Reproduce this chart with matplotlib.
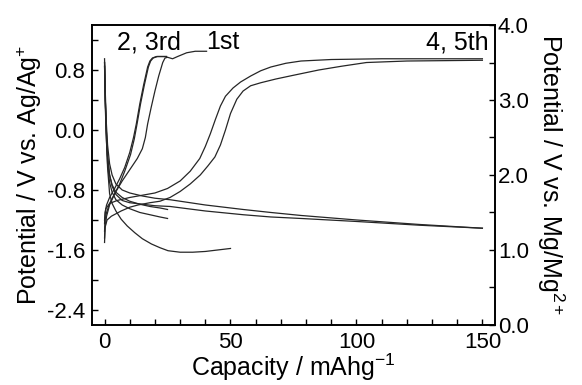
import matplotlib
matplotlib.use("Agg")
import matplotlib.pyplot as plt
from matplotlib.ticker import MultipleLocator

plt.rcParams['font.family'] = ['Liberation Sans', 'DejaVu Sans']
plt.rcParams['mathtext.fontset'] = 'custom'
plt.rcParams['mathtext.rm'] = 'Liberation Sans'
plt.rcParams['mathtext.it'] = 'Liberation Sans'

# discharge curves (capacity mAh/g, potential V vs Ag/Ag+)
dis1_x = [0, 0.3, 0.7, 1.2, 2, 3, 4.5, 6.6, 9, 12, 15, 18.6, 22, 25.2, 30, 35, 40, 45, 50]
dis1_y = [0.95, 0.4, -0.1, -0.5, -0.85, -0.98, -1.08, -1.19, -1.28, -1.37, -1.45, -1.52, -1.57, -1.61, -1.63, -1.63, -1.62, -1.6, -1.58]

dis2_x = [0, 0.3, 0.7, 1.2, 2, 3, 4.5, 7, 10, 14, 18, 22, 25]
dis2_y = [0.9, 0.4, 0.0, -0.35, -0.6, -0.73, -0.83, -0.9, -0.95, -0.99, -1.02, -1.04, -1.06]
dis3_x = [0, 0.3, 0.7, 1.2, 2, 3, 4.5, 7, 10, 14, 18, 22, 25]
dis3_y = [0.85, 0.3, -0.1, -0.45, -0.7, -0.83, -0.93, -1.0, -1.05, -1.1, -1.13, -1.16, -1.18]

dis4_x = [0, 0.3, 0.7, 1.2, 2, 3, 4.5, 7, 10, 15, 20, 26, 40, 55, 66, 78, 100, 125, 150]
dis4_y = [0.9, 0.5, 0.1, -0.2, -0.45, -0.6, -0.72, -0.8, -0.84, -0.88, -0.91, -0.93, -1.0, -1.06, -1.1, -1.14, -1.2, -1.26, -1.31]
dis5_x = [0, 0.3, 0.7, 1.2, 2, 3, 4.5, 7, 10, 15, 20, 26, 40, 55, 66, 78, 100, 125, 150]
dis5_y = [0.85, 0.4, 0.0, -0.35, -0.6, -0.75, -0.86, -0.94, -0.97, -0.99, -1.01, -1.02, -1.08, -1.13, -1.16, -1.18, -1.22, -1.27, -1.31]

# charge curves
ch1_x = [0, 0.2, 0.8, 2, 4, 7, 10, 13, 15, 16.2, 17.1, 18.5, 20, 21.5, 23.1, 24, 25, 27, 29, 32.6, 36, 40.5]
ch1_y = [-1.5, -1.3, -1.15, -1.0, -0.85, -0.68, -0.53, -0.38, -0.25, -0.1, 0.08, 0.3, 0.52, 0.72, 0.9, 0.96, 0.97, 0.95, 0.98, 1.03, 1.05, 1.05]

ch2_x = [0, 0.2, 0.8, 2, 4, 6, 8, 10, 11.5, 12.6, 14, 15.5, 17.1, 18, 19, 20.6, 24.6]
ch2_y = [-1.25, -1.1, -1.0, -0.9, -0.78, -0.65, -0.5, -0.3, -0.1, 0.08, 0.35, 0.6, 0.84, 0.92, 0.96, 0.98, 0.98]
ch3_x = [0, 0.2, 0.8, 2, 4, 6, 8, 10.3, 11.8, 12.9, 14.3, 15.8, 17.4, 18.3, 19.3, 21, 24.6]
ch3_y = [-1.35, -1.2, -1.1, -0.98, -0.85, -0.72, -0.55, -0.33, -0.12, 0.08, 0.35, 0.6, 0.84, 0.92, 0.96, 0.98, 0.98]

ch4_x = [0, 0.5, 2, 5, 10, 15, 20, 25, 30, 34, 37.8, 40, 42, 44, 46, 48, 51, 54, 58, 62, 66, 72, 78, 90, 110, 150]
ch4_y = [-1.2, -1.05, -0.98, -0.94, -0.9, -0.87, -0.84, -0.78, -0.68, -0.55, -0.38, -0.22, -0.05, 0.14, 0.32, 0.45, 0.56, 0.64, 0.72, 0.79, 0.84, 0.89, 0.92, 0.94, 0.95, 0.95]
ch5_x = [0, 0.2, 1, 2.7, 6.6, 10, 13.3, 18, 22, 26, 30, 34, 38, 41, 43.8, 46, 48, 50, 52.5, 55, 58, 62, 68, 75, 85, 94, 104, 120, 150]
ch5_y = [-1.44, -1.3, -1.2, -1.15, -1.08, -1.03, -1.0, -0.97, -0.95, -0.9, -0.82, -0.72, -0.6, -0.48, -0.36, -0.2, 0.0, 0.22, 0.41, 0.52, 0.59, 0.63, 0.68, 0.73, 0.8, 0.85, 0.9, 0.92, 0.93]

curves = [(dis1_x, dis1_y), (dis2_x, dis2_y), (dis3_x, dis3_y), (dis4_x, dis4_y), (dis5_x, dis5_y),
          (ch1_x, ch1_y), (ch2_x, ch2_y), (ch3_x, ch3_y), (ch4_x, ch4_y), (ch5_x, ch5_y)]

fig = plt.figure(figsize=(5.82, 3.85), dpi=100)
ax = fig.add_axes([0.158, 0.156, 0.6925, 0.779])

for cx, cy in curves:
    ax.plot(cx, cy, color='#262626', lw=0.9)

ax.set_xlim(-5, 155)
ax.set_ylim(-2.6, 1.4)
ax.xaxis.set_major_locator(MultipleLocator(50))
ax.xaxis.set_minor_locator(MultipleLocator(10))
ax.yaxis.set_major_locator(MultipleLocator(0.8))
ax.yaxis.set_minor_locator(MultipleLocator(0.4))
ax.yaxis.set_major_formatter(plt.FormatStrFormatter('%.1f'))
ax.tick_params(which='both', direction='in', length=4, width=1, labelsize=16, pad=5, top=False, right=False)
ax.set_xlabel('Capacity / mAhg$^{-1}$', fontsize=18, labelpad=-1)
ax.set_ylabel('Potential / V vs. Ag/Ag$^{+}$', fontsize=18, labelpad=2)

ax2 = ax.twinx()
ax2.set_ylim(0, 4)
ax2.yaxis.set_major_locator(MultipleLocator(1))
ax2.yaxis.set_minor_locator(MultipleLocator(0.5))
ax2.yaxis.set_major_formatter(plt.FormatStrFormatter('%.1f'))
ax2.tick_params(which='both', direction='in', length=4, width=1, labelsize=16, pad=2)
ax2.set_ylabel('Potential / V vs. Mg/Mg$^{2+}$', fontsize=18, rotation=-90, labelpad=27)

for a in (ax, ax2):
    for s in a.spines.values():
        s.set_linewidth(1.2)

ax.text(4.8, 1.17, '2, 3rd', fontsize=18, va='center')
ax.text(40.5, 1.17, '1st', fontsize=18, va='center')
ax.text(152.5, 1.17, '4, 5th', fontsize=18, va='center', ha='right')

fig.savefig('out.png', dpi=100)
